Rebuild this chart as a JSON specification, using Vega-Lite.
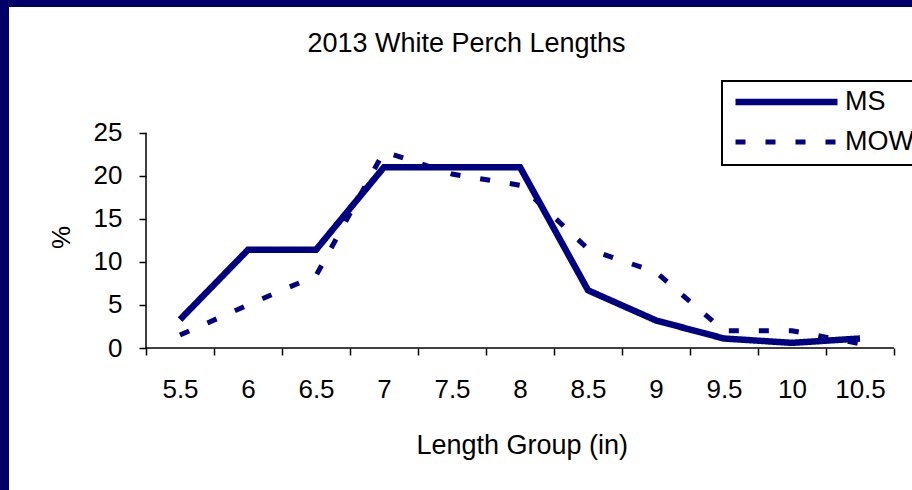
{
  "$schema": "https://vega.github.io/schema/vega-lite/v6.json",
  "width": 903,
  "height": 483,
  "autosize": {"type": "none"},
  "padding": {"left": 9, "top": 7, "right": 0, "bottom": 0},
  "background": "#000068",
  "config": {
    "view": {"fill": "white", "stroke": null},
    "font": "Liberation Sans",
    "axis": {"grid": false},
    "legend": {"strokeWidth": 2}
  },
  "title": {
    "text": "2013 White Perch Lengths",
    "fontSize": 27,
    "fontWeight": "normal",
    "color": "black",
    "anchor": "middle",
    "frame": "group",
    "offset": -72,
    "baseline": "alphabetic",
    "dx": 6
  },
  "datasets": {
    "series": [
      {"length": "5.5", "series": "MS", "pct": 3.3},
      {"length": "6", "series": "MS", "pct": 11.4},
      {"length": "6.5", "series": "MS", "pct": 11.4},
      {"length": "7", "series": "MS", "pct": 21.0},
      {"length": "7.5", "series": "MS", "pct": 21.0},
      {"length": "8", "series": "MS", "pct": 21.0},
      {"length": "8.5", "series": "MS", "pct": 6.7},
      {"length": "9", "series": "MS", "pct": 3.2},
      {"length": "9.5", "series": "MS", "pct": 1.1},
      {"length": "10", "series": "MS", "pct": 0.6},
      {"length": "10.5", "series": "MS", "pct": 1.1},
      {"length": "5.5", "series": "MOW", "pct": 1.5},
      {"length": "6", "series": "MOW", "pct": 5.0},
      {"length": "6.5", "series": "MOW", "pct": 8.4},
      {"length": "7", "series": "MOW", "pct": 22.8},
      {"length": "7.5", "series": "MOW", "pct": 20.2},
      {"length": "8", "series": "MOW", "pct": 18.9},
      {"length": "8.5", "series": "MOW", "pct": 11.5},
      {"length": "9", "series": "MOW", "pct": 8.8},
      {"length": "9.5", "series": "MOW", "pct": 2.0},
      {"length": "10", "series": "MOW", "pct": 2.0},
      {"length": "10.5", "series": "MOW", "pct": 0.5}
    ],
    "yline": [{"length": "5.5", "lo": 0, "hi": 25}],
    "xline": [{"start": "5.5", "end": "10.5", "v": 0}]
  },
  "layer": [
    {
      "data": {"name": "series"},
      "mark": {"type": "line", "color": "#000080", "strokeCap": "butt", "strokeJoin": "miter"},
      "encoding": {
        "x": {
          "field": "length",
          "type": "nominal",
          "sort": null,
          "scale": {
            "domain": ["5.5", "6", "6.5", "7", "7.5", "8", "8.5", "9", "9.5", "10", "10.5"],
            "paddingInner": 0,
            "paddingOuter": 0,
            "range": [137, 885]
          },
          "axis": {
            "title": "Length Group (in)",
            "orient": "bottom",
            "offset": -142,
            "domain": false,
            "tickBand": "extent",
            "tickSize": 7,
            "tickColor": "black",
            "tickWidth": 1.5,
            "labelAngle": 0,
            "labelFontSize": 26,
            "labelColor": "black",
            "labelBaseline": "alphabetic",
            "labelPadding": 42,
            "titleFontSize": 27,
            "titleFontWeight": "normal",
            "titleColor": "black",
            "titleBaseline": "alphabetic",
            "titleX": 512.7,
            "titleY": 105
          }
        },
        "y": {
          "field": "pct",
          "type": "quantitative",
          "scale": {"domain": [-16.488, 39.596], "nice": false, "zero": false},
          "axis": {
            "title": "%",
            "orient": "left",
            "offset": -137,
            "domain": false,
            "values": [0, 5, 10, 15, 20, 25],
            "tickSize": 7,
            "tickColor": "black",
            "tickWidth": 1.5,
            "labelFontSize": 26,
            "labelColor": "black",
            "labelPadding": 17,
            "titleFontSize": 26,
            "titleFontWeight": "normal",
            "titleColor": "black",
            "titleX": -85,
            "titleY": 230,
            "titleAngle": -90,
            "titleBaseline": "middle",
            "titleAlign": "center"
          }
        },
        "strokeDash": {
          "field": "series",
          "type": "nominal",
          "scale": {"domain": ["MS", "MOW"], "range": [[1, 0], [10, 20]]},
          "legend": {
            "orient": "none",
            "legendX": 713,
            "legendY": 74,
            "title": null,
            "symbolType": "stroke",
            "symbolSize": 10404,
            "symbolStrokeColor": "#000080",
            "labelFontSize": 27,
            "labelColor": "black",
            "labelOffset": 4,
            "padding": 10,
            "strokeColor": "black",
            "fillColor": "white",
            "clipHeight": 22,
            "rowPadding": 13,
            "labelLimit": 0
          }
        },
        "strokeWidth": {
          "field": "series",
          "type": "ordinal",
          "scale": {"domain": ["MS", "MOW"], "range": [6.5, 5]},
          "legend": {
            "orient": "none",
            "legendX": 713,
            "legendY": 74,
            "title": null,
            "symbolType": "stroke",
            "symbolSize": 10404,
            "symbolStrokeColor": "#000080",
            "labelFontSize": 27,
            "labelColor": "black",
            "labelOffset": 4,
            "padding": 10,
            "strokeColor": "black",
            "fillColor": "white",
            "clipHeight": 22,
            "rowPadding": 13,
            "labelLimit": 0
          }
        }
      }
    },
    {
      "data": {"name": "yline"},
      "mark": {"type": "rule", "color": "black", "strokeWidth": 1.5},
      "encoding": {
        "x": {"field": "length", "type": "nominal", "bandPosition": 0},
        "y": {"field": "lo", "type": "quantitative"},
        "y2": {"field": "hi"}
      }
    },
    {
      "data": {"name": "xline"},
      "mark": {"type": "rule", "color": "black", "strokeWidth": 1.5},
      "encoding": {
        "x": {"field": "start", "type": "nominal", "bandPosition": 0},
        "x2": {"field": "end", "bandPosition": 1},
        "y": {"field": "v", "type": "quantitative"}
      }
    }
  ]
}
